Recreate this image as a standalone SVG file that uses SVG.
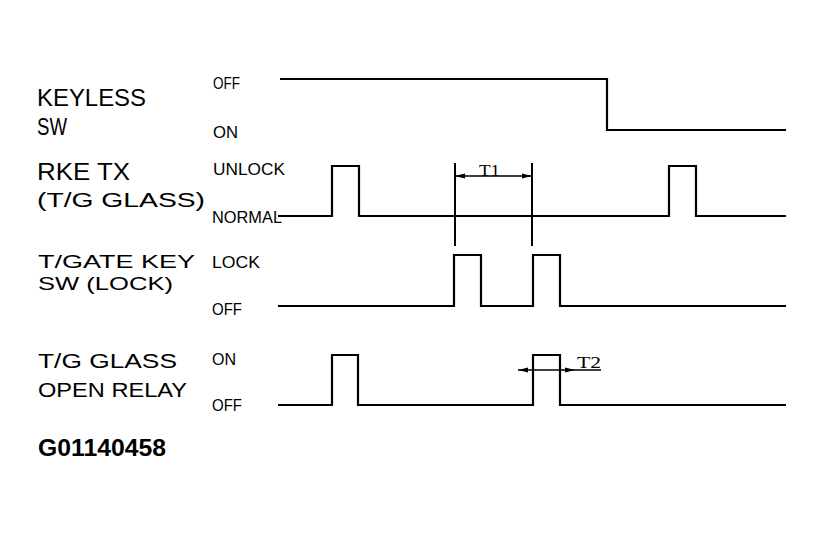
<svg xmlns="http://www.w3.org/2000/svg" width="823" height="533" viewBox="0 0 823 533">
<style>
text{font-family:"Liberation Sans",Arial,sans-serif;fill:#000}
.name{font-size:24px}
.name2{font-size:19px}
.name3{font-size:21px}
.state{font-size:17px}
.dim{font-family:"Liberation Serif","Times New Roman",serif;font-size:17px}
.wave{fill:none;stroke:#000;stroke-width:2.2;stroke-linejoin:miter}
.mark{fill:none;stroke:#000;stroke-width:2}
.dimline{fill:none;stroke:#000;stroke-width:1.5}
</style>
<defs>
<marker id="ah" viewBox="0 0 10 6" refX="10" refY="3" markerWidth="10" markerHeight="6" markerUnits="userSpaceOnUse" orient="auto">
<path d="M0,0.5 L10,3 L0,5.5 Z" fill="#000"/>
</marker>
</defs>
<rect width="823" height="533" fill="#fff"/>
<g id="keyless-sw">
<text class="name" x="37" y="106" textLength="109" lengthAdjust="spacingAndGlyphs">KEYLESS</text>
<text class="name" x="37" y="135" textLength="30" lengthAdjust="spacingAndGlyphs">SW</text>
<text class="state" x="213" y="89" textLength="27" lengthAdjust="spacingAndGlyphs">OFF</text>
<text class="state" x="213" y="138" textLength="25" lengthAdjust="spacingAndGlyphs">ON</text>
<path class="wave" d="M280,79 H607 V130 H786"/>
</g>
<g id="rke-tx">
<text class="name" x="37" y="180" textLength="93" lengthAdjust="spacingAndGlyphs">RKE TX</text>
<text class="name3" x="37" y="207" textLength="168" lengthAdjust="spacingAndGlyphs">(T/G GLASS)</text>
<text class="state" x="213" y="175" textLength="72" lengthAdjust="spacingAndGlyphs">UNLOCK</text>
<text class="state" x="212" y="223" textLength="70" lengthAdjust="spacingAndGlyphs">NORMAL</text>
<path class="wave" d="M278,216 H332 V166 H359 V216 H669 V166 H696 V216 H786"/>
</g>
<g id="tgate-key-sw">
<text class="name2" x="38" y="268" textLength="157" lengthAdjust="spacingAndGlyphs">T/GATE KEY</text>
<text class="name2" x="38" y="290" textLength="135" lengthAdjust="spacingAndGlyphs">SW (LOCK)</text>
<text class="state" x="212" y="268" textLength="48" lengthAdjust="spacingAndGlyphs">LOCK</text>
<text class="state" x="212" y="315" textLength="30" lengthAdjust="spacingAndGlyphs">OFF</text>
<path class="wave" d="M278,306 H454 V255 H481 V306 H533 V255 H560 V306 H786"/>
</g>
<g id="tg-glass-open-relay">
<text class="name3" x="38" y="368" textLength="139" lengthAdjust="spacingAndGlyphs">T/G GLASS</text>
<text class="name3" x="38" y="397" textLength="149" lengthAdjust="spacingAndGlyphs">OPEN RELAY</text>
<text class="state" x="212" y="365" textLength="24" lengthAdjust="spacingAndGlyphs">ON</text>
<text class="state" x="212" y="411" textLength="30" lengthAdjust="spacingAndGlyphs">OFF</text>
<path class="wave" d="M278,405 H332 V355 H358 V405 H533 V355 H560 V405 H786"/>
</g>
<g id="connectors">
<path class="mark" d="M455,163 V246 M532,163 V246"/>
<path class="dimline" d="M493,176 H455" marker-end="url(#ah)"/>
<path class="dimline" d="M493,176 H532" marker-end="url(#ah)"/>
<text class="dim" x="479" y="176" textLength="21" lengthAdjust="spacingAndGlyphs">T1</text>
<path class="dimline" d="M546,370 H518" marker-end="url(#ah)"/>
<path class="dimline" d="M546,370 H575" marker-end="url(#ah)"/>
<path class="dimline" d="M575,370 H601"/>
<text class="dim" x="577" y="368" textLength="24" lengthAdjust="spacingAndGlyphs">T2</text>
</g>
<g id="figure-id">
<text x="38" y="456" style="font-size:24px;font-weight:bold" textLength="128" lengthAdjust="spacingAndGlyphs">G01140458</text>
</g>
</svg>
